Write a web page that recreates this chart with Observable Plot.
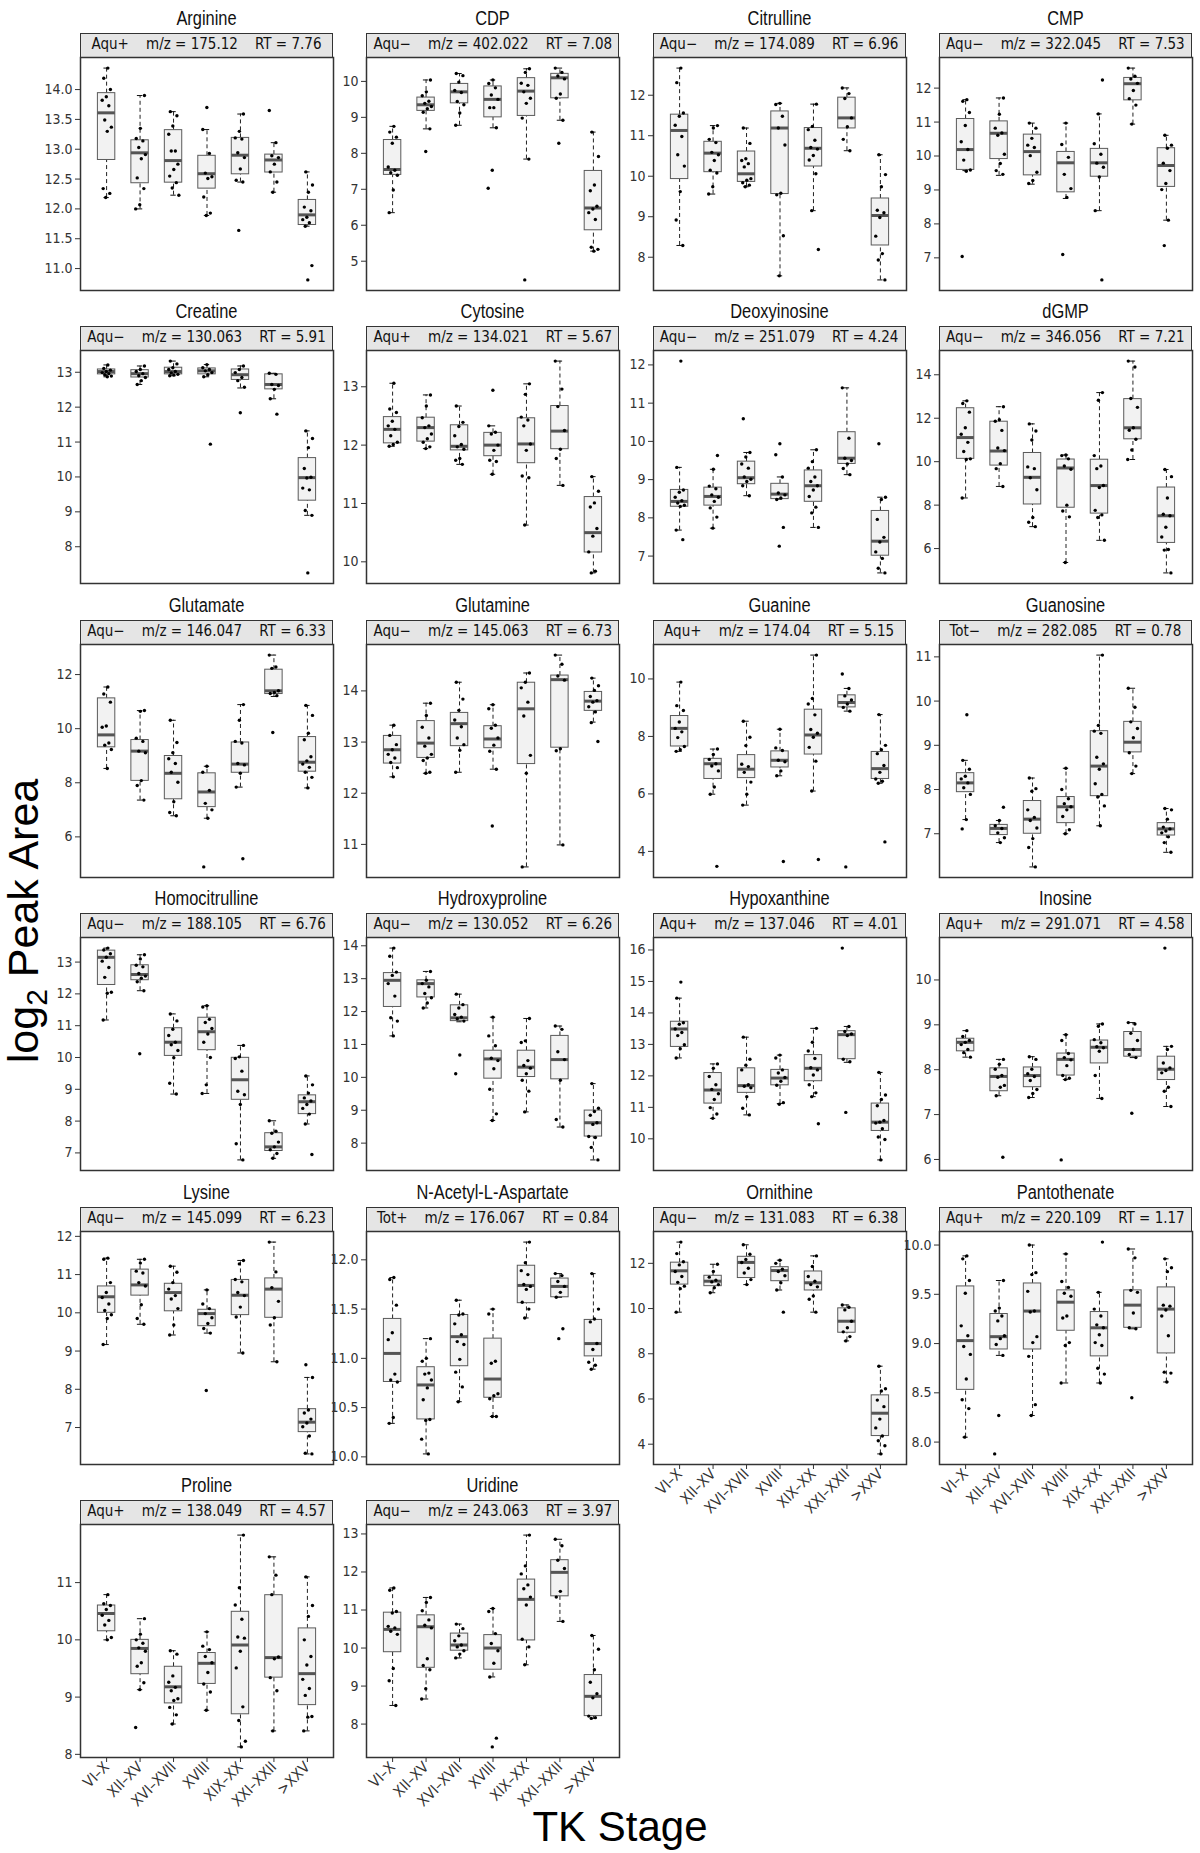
<!DOCTYPE html>
<html><head><meta charset="utf-8">
<script src="https://cdn.jsdelivr.net/npm/d3@7"></script>
<script src="https://cdn.jsdelivr.net/npm/@observablehq/plot@0.6"></script>
<style>
body{margin:0;background:#fff;}
#root{position:relative;width:1200px;height:1853px;overflow:hidden;font-family:"Liberation Sans Narrow","DejaVu Sans Condensed","Liberation Sans",sans-serif;}
.title{position:absolute;text-align:center;font-family:"Liberation Sans",Arial,sans-serif;font-size:20px;color:#111;line-height:26px;height:26px;white-space:nowrap;transform:scaleX(0.82);transform-origin:50% 50%;}
.strip{position:absolute;box-sizing:border-box;background:#e5e5e5;border:1.5px solid #333;text-align:center;font-size:15px;white-space:pre;line-height:21px;color:#111;}
.panel{position:absolute;}
</style></head><body><div id="root"></div><script>
const metabolites = ["Arginine","CDP","Citrulline","CMP","Creatine","Cytosine","Deoxyinosine","dGMP","Glutamate","Glutamine","Guanine","Guanosine","Homocitrulline","Hydroxyproline","Hypoxanthine","Inosine","Lysine","N-Acetyl-L-Aspartate","Ornithine","Pantothenate","Proline","Uridine"];
const modes = ["Aqu+","Aqu\u2212","Aqu\u2212","Aqu\u2212","Aqu\u2212","Aqu+","Aqu\u2212","Aqu\u2212","Aqu\u2212","Aqu\u2212","Aqu+","Tot\u2212","Aqu\u2212","Aqu\u2212","Aqu+","Aqu+","Aqu\u2212","Tot+","Aqu\u2212","Aqu+","Aqu+","Aqu\u2212"];
const mzValues = ["175.12","402.022","174.089","322.045","130.063","134.021","251.079","346.056","146.047","145.063","174.04","282.085","188.105","130.052","137.046","291.071","145.099","176.067","131.083","220.109","138.049","243.063"];
const rtValues = ["7.76","7.08","6.96","7.53","5.91","5.67","4.24","7.21","6.33","6.73","5.15","0.78","6.76","6.26","4.01","4.58","6.23","0.84","6.38","1.17","4.57","3.97"];
// y tick labels per panel: first, last, step
const yTickFirst = [11,5,8,7,8,10,7,6,6,11,4,7,7,8,10,6,7,10,4,8,8,8];
const yTickLast  = [14,10,12,12,13,13,12,14,12,14,10,11,13,14,16,10,12,12,12,10,11,13];
const yTickSteps = [0.5,1,1,1,1,1,1,2,2,1,2,1,1,1,1,1,1,0.5,2,0.5,1,1];
const stages = ["VI\u2013X","XII\u2013XV","XVI\u2013XVII","XVIII","XIX\u2013XX","XXI\u2013XXII",">XXV"];

// box stats per stage: [lower whisker, Q1, median, Q3, upper whisker]
const argininePts = [
 [14.36,14.19,14.0,13.88,13.82,13.73,13.49,13.37,13.30,12.34,12.26,12.19],
 [13.90,13.35,13.18,13.14,13.03,12.91,12.84,12.52,12.34,12.07,12.0],
 [13.63,13.56,13.39,13.25,12.97,12.97,12.75,12.66,12.55,12.44,12.35,12.23],
 [13.70,13.33,12.93,12.60,12.54,12.51,12.20,11.93,11.89],
 [13.59,13.30,13.19,13.17,12.94,12.86,12.67,12.48,12.45,11.64],
 [13.65,13.11,12.89,12.86,12.75,12.62,12.45,12.28],
 [12.62,12.40,12.28,12.03,11.97,11.86,11.82,11.77,11.71,11.05,10.81]];
const arginineBox = [[12.19,12.82,13.61,13.94,14.36],[12.0,12.43,12.94,13.15,13.90],[12.23,12.44,12.81,13.32,13.63],[11.89,12.34,12.59,12.89,13.33],[12.45,12.58,12.90,13.19,13.59],[12.28,12.61,12.82,12.91,13.11],[11.71,11.73,11.90,12.15,12.62]];

const cdpPts = [
 [8.75,8.59,8.45,8.28,7.62,7.53,7.46,7.39,6.98,6.35],
 [10.04,9.71,9.60,9.45,9.39,9.30,9.24,9.14,8.68,8.05],
 [10.22,10.16,9.98,9.75,9.69,9.44,9.35,9.12,8.78],
 [10.04,9.94,9.82,9.62,9.50,9.27,9.27,8.71,7.53,7.03],
 [10.35,10.25,9.95,9.89,9.71,9.53,9.39,8.98,7.84,4.48],
 [10.37,10.25,10.15,10.07,9.65,9.53,8.92,8.28],
 [8.59,7.91,7.12,6.96,6.53,6.45,6.35,6.16,5.39,5.33,5.28]];
const cdpBox = [[6.35,7.40,7.55,8.37,8.75],[8.68,9.18,9.35,9.55,10.04],[8.78,9.39,9.71,9.93,10.22],[8.71,9.0,9.50,9.86,10.04],[7.84,9.04,9.73,10.09,10.35],[8.92,9.53,10.10,10.21,10.37],[5.28,5.86,6.48,7.51,8.59]];

const citrullinePts = [
 [12.67,12.31,11.56,11.48,11.26,10.98,10.53,10.25,9.62,8.92,8.29],
 [11.25,11.19,10.91,10.83,10.59,10.53,10.39,10.15,10.08,9.74,9.56],
 [11.19,10.81,10.43,10.39,10.31,10.23,9.94,9.90,9.84,9.78,9.74],
 [11.80,11.77,11.48,11.19,10.77,9.58,9.54,8.53,7.54],
 [11.78,11.23,11.15,10.89,10.71,10.67,10.51,10.40,10.06,9.15,8.19],
 [12.18,12.04,11.92,11.44,11.22,10.91,10.63],
 [10.53,10.04,9.74,9.16,9.10,8.98,8.52,8.09,7.93,7.44]];
const citrullineBox = [[8.29,9.93,11.13,11.52,12.67],[9.56,10.10,10.57,10.85,11.25],[9.74,9.86,10.06,10.61,11.19],[7.54,9.56,11.19,11.60,11.80],[9.15,10.24,10.69,11.19,11.78],[10.63,11.18,11.44,11.94,12.18],[7.44,8.29,9.03,9.45,10.53]];

const cmpPts = [
 [11.66,11.61,11.28,10.90,10.42,10.19,9.88,9.59,9.55,7.04],
 [11.71,11.23,10.82,10.68,10.61,10.05,9.78,9.57,9.46],
 [10.97,10.82,10.52,10.32,10.25,10.01,9.52,9.28,9.19],
 [10.97,10.34,9.96,9.46,9.04,8.78,7.10],
 [12.24,11.24,10.36,10.05,9.79,9.67,9.38,8.39,6.35],
 [12.59,12.35,12.27,12.14,11.93,11.69,11.50,10.94],
 [10.61,10.32,10.23,9.79,9.57,9.19,9.01,8.11,7.36]];
const cmpBox = [[9.57,9.59,10.19,11.09,11.66],[9.43,9.91,10.67,11.02,11.71],[9.17,9.43,10.13,10.63,10.97],[8.75,8.93,9.80,10.12,10.97],[8.39,9.39,9.80,10.21,11.24],[10.94,11.64,12.13,12.30,12.59],[8.11,9.09,9.72,10.23,10.61]];

const creatinePts = [
 [13.21,13.11,13.06,13.02,12.99,12.96,12.93,12.89,12.87],
 [13.18,13.08,13.02,12.96,12.90,12.85,12.76,12.65],
 [13.32,13.24,13.13,13.08,13.02,12.98,12.94,12.92,12.90],
 [13.22,13.13,13.08,13.04,12.99,12.93,12.87,10.94],
 [13.18,13.08,12.99,12.85,12.76,12.57,11.84],
 [12.97,12.94,12.65,12.62,12.51,12.24,11.80],
 [11.32,11.10,10.84,10.24,9.99,9.97,9.68,9.63,9.04,8.90,7.25]];
const creatineBox = [[12.87,12.94,13.02,13.08,13.21],[12.65,12.85,12.96,13.06,13.18],[12.90,12.94,13.02,13.13,13.32],[12.87,12.94,13.04,13.11,13.22],[12.55,12.78,12.93,13.08,13.18],[12.24,12.51,12.65,12.94,12.97],[8.90,9.32,9.98,10.54,11.32]];

const cytosinePts = [
 [13.06,12.62,12.56,12.41,12.33,12.27,12.16,12.05,12.01,11.98],
 [12.86,12.67,12.47,12.33,12.30,12.19,12.11,12.05,11.97,11.94],
 [12.67,12.39,12.32,12.16,12.01,11.97,11.93,11.77,11.74,11.67],
 [12.94,12.33,12.22,12.19,12.0,11.91,11.74,11.72,11.50],
 [13.05,12.87,12.48,12.43,12.33,12.02,11.91,11.47,11.44,10.63],
 [13.44,12.96,12.66,12.25,11.93,11.77,11.31],
 [11.46,11.21,11.01,10.94,10.57,10.44,10.17,9.84,9.81]];
const cytosineBox = [[11.98,12.03,12.27,12.48,13.06],[11.94,12.06,12.30,12.47,12.86],[11.67,11.91,11.98,12.34,12.67],[11.50,11.81,12.0,12.21,12.33],[10.63,11.69,12.02,12.46,13.05],[11.31,11.93,12.24,12.67,13.44],[9.81,10.16,10.50,11.11,11.46]];

const deoxyinosinePts = [
 [12.10,9.32,8.73,8.67,8.54,8.45,8.39,8.33,8.30,7.68,7.43],
 [9.63,9.27,8.83,8.76,8.60,8.54,8.43,8.26,8.02,7.73],
 [10.59,9.71,9.59,9.41,9.30,9.07,9.01,8.95,8.84,8.58],
 [9.94,9.65,9.07,8.65,8.60,8.52,8.48,7.75,7.26],
 [9.78,9.47,9.30,9.07,8.95,8.84,8.73,8.56,8.28,8.13,7.75],
 [11.40,10.08,9.56,9.50,9.41,9.29,9.13],
 [9.94,8.54,8.48,7.96,7.49,7.37,7.11,6.94,6.68,6.56]];
const deoxyinosineBox = [[7.68,8.29,8.43,8.73,9.32],[7.73,8.32,8.56,8.79,9.27],[8.58,8.88,9.05,9.47,9.71],[8.49,8.49,8.62,8.89,9.07],[7.75,8.42,8.84,9.24,9.78],[9.13,9.41,9.56,10.24,11.40],[6.56,7.01,7.39,8.18,8.54]];

const dgmpPts = [
 [12.80,12.68,12.28,11.56,11.26,10.89,10.47,10.13,10.10,8.33],
 [12.53,11.93,11.86,11.44,10.63,10.51,9.91,9.68,8.86],
 [11.74,11.41,11.0,9.76,9.68,9.26,8.71,7.43,7.21,7.01],
 [10.31,10.28,10.13,9.80,9.65,8.0,7.73,7.46,5.36],
 [13.18,12.83,10.28,9.80,9.68,8.90,8.81,7.76,7.55,7.43,6.38],
 [14.63,14.36,12.91,12.50,11.56,11.45,11.03,10.54,10.10],
 [9.64,9.31,8.33,7.58,7.51,6.98,6.53,5.96,5.93,4.88]];
const dgmpBox = [[8.33,10.13,11.11,12.46,12.80],[8.86,9.82,10.49,11.84,12.53],[7.01,8.03,9.28,10.40,11.74],[5.36,7.88,9.71,10.10,10.31],[6.38,7.61,8.90,10.09,13.18],[10.10,11.03,11.56,12.88,14.63],[4.88,6.26,7.51,8.81,9.64]];

const glutamatePts = [
 [11.54,11.28,10.98,10.10,10.05,9.47,9.39,9.23,8.53],
 [10.67,10.64,9.65,9.53,9.17,9.11,8.08,7.90,7.36],
 [10.31,9.49,9.11,8.89,8.71,8.39,8.02,7.30,6.90,6.78],
 [8.61,8.39,7.72,7.24,7.0,6.69,4.89],
 [10.89,10.31,9.53,9.47,8.71,8.66,8.35,7.84,5.19],
 [12.72,12.28,12.23,11.40,11.34,11.30,11.22,9.86],
 [10.86,10.49,9.83,9.59,8.96,8.81,8.69,8.57,8.39,8.20,7.81]];
const glutamateBox = [[8.53,9.31,9.77,11.12,11.54],[7.36,8.07,9.17,9.58,10.67],[6.78,7.39,8.35,8.99,10.31],[6.69,7.10,7.66,8.35,8.61],[7.84,8.37,8.69,9.49,10.89],[11.19,11.28,11.40,12.18,12.72],[7.81,8.41,8.76,9.69,10.86]];

const glutaminePts = [
 [13.33,13.13,12.95,12.85,12.76,12.69,12.60,12.50,12.32],
 [13.76,13.52,13.29,13.08,12.92,12.76,12.69,12.64,12.41,12.39],
 [14.17,13.84,13.62,13.43,13.30,13.08,12.95,12.84,12.41],
 [13.73,13.65,13.33,13.27,13.08,12.94,12.82,12.47,11.36],
 [14.35,14.17,14.06,13.78,13.51,12.74,12.39,10.56],
 [14.70,14.52,14.29,14.21,12.87,12.83,10.99],
 [14.25,14.10,14.01,13.89,13.81,13.78,13.69,13.59,13.38,13.01]];
const glutamineBox = [[12.32,12.58,12.85,13.12,13.33],[12.39,12.69,12.98,13.41,13.76],[12.41,12.92,13.36,13.57,14.17],[12.47,12.88,13.06,13.31,13.73],[10.56,12.57,13.65,14.16,14.35],[10.99,12.89,14.22,14.30,14.70],[13.39,13.61,13.80,13.98,14.25]];

const guaninePts = [
 [9.89,9.07,8.90,8.50,8.28,8.16,7.96,7.65,7.54,7.48],
 [7.56,7.37,7.20,7.05,6.97,6.80,6.24,5.99,3.48],
 [8.53,7.97,7.68,7.03,6.95,6.75,6.41,5.99,5.61],
 [8.25,7.60,7.51,7.17,7.12,6.80,6.63,3.65],
 [10.83,9.32,9.13,8.75,8.24,8.11,7.97,7.62,7.14,6.10,3.72],
 [10.17,9.67,9.41,9.27,9.13,9.01,8.88,3.46],
 [8.76,7.69,7.54,7.40,6.99,6.75,6.52,6.44,6.37,4.33]];
const guanineBox = [[7.48,7.65,8.28,8.71,9.89],[5.99,6.52,7.05,7.22,7.56],[5.61,6.55,6.86,7.35,8.53],[6.63,6.92,7.17,7.48,8.25],[6.10,7.37,8.05,8.93,10.83],[8.88,9.01,9.18,9.43,9.67],[6.37,6.52,6.88,7.46,8.76]];

const guanosinePts = [
 [9.69,8.66,8.46,8.30,8.24,8.15,8.04,7.89,7.32,7.11],
 [7.60,7.30,7.18,7.12,7.02,6.91,6.80],
 [8.26,8.02,7.96,7.54,7.37,7.30,7.13,6.89,6.69,6.25],
 [8.48,8.0,7.79,7.68,7.61,7.54,7.39,7.09,7.0],
 [11.04,9.45,9.32,9.27,8.73,8.58,8.46,8.13,7.89,7.83,7.63,7.18],
 [10.29,9.86,9.53,9.38,9.17,8.83,8.53,8.36],
 [7.57,7.54,7.33,7.15,7.11,7.06,7.02,6.93,6.80,6.58]];
const guanosineBox = [[7.32,7.94,8.15,8.37,8.66],[6.80,6.97,7.12,7.20,7.30],[6.25,7.0,7.33,7.74,8.26],[7.0,7.24,7.61,7.83,8.48],[7.18,7.85,8.53,9.32,11.04],[8.36,8.84,9.07,9.53,10.29],[6.58,6.96,7.11,7.24,7.57]];

const homocitrullinePts = [
 [13.44,13.38,13.26,13.15,13.03,12.83,12.52,12.05,12.02,11.18],
 [13.23,13.10,12.90,12.85,12.64,12.56,12.49,12.38,12.10,10.12],
 [11.37,11.15,10.89,10.69,10.48,10.40,10.22,9.99,9.19,8.85],
 [11.63,11.59,11.20,11.10,10.91,10.74,10.48,10.0,9.14,8.87],
 [10.38,10.02,9.97,9.57,8.94,8.83,8.52,7.29,6.78],
 [8.01,7.68,7.62,7.34,7.19,7.10,6.98,6.83],
 [9.42,9.14,8.88,8.73,8.63,8.52,8.40,8.22,7.91,6.95]];
const homocitrullineBox = [[11.18,12.28,13.15,13.36,13.44],[12.10,12.43,12.61,12.90,13.23],[8.85,10.05,10.48,10.92,11.37],[8.87,10.23,10.81,11.25,11.63],[6.78,8.67,9.30,9.99,10.38],[6.83,7.06,7.19,7.62,8.01],[7.91,8.22,8.61,8.81,9.42]];

const hydroxyprolinePts = [
 [13.93,13.68,13.20,13.10,12.85,12.47,11.81,11.71,11.26],
 [13.22,12.95,12.85,12.75,12.55,12.42,12.26,12.11],
 [12.53,12.21,12.11,11.91,11.83,11.78,11.71,10.68,10.11],
 [11.83,11.26,10.96,10.58,10.51,10.26,9.64,8.89,8.69],
 [11.79,11.11,11.06,10.51,10.36,10.28,10.11,9.91,9.58,8.95],
 [11.56,11.46,10.78,10.54,9.91,8.72,8.49],
 [9.81,9.06,8.96,8.85,8.62,8.57,8.20,8.17,7.87,7.49]];
const hydroxyprolineBox = [[11.26,12.14,12.95,13.17,13.93],[12.11,12.43,12.85,12.95,13.22],[11.69,11.71,11.81,12.19,12.53],[8.69,9.96,10.56,10.81,11.83],[8.95,10.01,10.31,10.81,11.79],[8.49,9.94,10.54,11.26,11.56],[7.49,8.20,8.62,8.99,9.81]];

const hypoxanthinePts = [
 [14.98,14.47,13.69,13.64,13.49,13.38,13.28,12.99,12.86,12.57],
 [12.38,12.24,11.98,11.72,11.57,11.43,11.25,10.99,10.79,10.65],
 [13.23,12.53,12.34,12.19,11.72,11.67,11.62,11.34,10.97,10.76],
 [12.66,12.57,12.19,12.09,11.95,11.83,11.70,11.15,11.10],
 [13.51,13.07,12.79,12.55,12.26,12.19,12.03,11.72,11.46,11.34,10.48],
 [16.06,13.57,13.41,13.33,13.28,12.53,12.45,10.84],
 [12.11,11.39,11.25,11.05,10.58,10.53,10.50,10.32,10.06,9.98,9.33]];
const hypoxanthineBox = [[12.57,12.92,13.49,13.72,14.47],[10.65,11.12,11.55,12.09,12.38],[10.76,11.46,11.69,12.24,13.23],[11.12,11.70,11.93,12.19,12.66],[11.34,11.83,12.24,12.66,13.51],[12.43,12.53,13.31,13.42,13.57],[9.33,10.25,10.53,11.12,12.11]];

const inosinePts = [
 [8.87,8.74,8.65,8.61,8.56,8.45,8.38,8.28],
 [8.23,8.12,8.01,7.87,7.83,7.65,7.61,7.42,6.05],
 [8.29,8.23,8.01,7.91,7.85,7.76,7.56,7.47,7.38],
 [8.78,8.65,8.36,8.27,8.22,8.09,7.87,7.81,7.78,5.99],
 [9.02,8.97,8.67,8.60,8.51,8.49,8.41,7.87,7.36],
 [9.05,9.02,8.81,8.65,8.45,8.34,8.27,7.03],
 [10.71,8.52,8.45,8.15,8.04,7.98,7.93,7.61,7.52,7.18]];
const inosineBox = [[8.28,8.41,8.61,8.69,8.87],[7.42,7.52,7.85,8.03,8.23],[7.38,7.61,7.87,8.05,8.29],[7.78,7.87,8.23,8.36,8.78],[7.36,8.14,8.50,8.65,9.02],[8.27,8.29,8.45,8.84,9.05],[7.18,7.77,8.01,8.29,8.52]];

const lysinePts = [
 [11.43,11.40,10.79,10.53,10.40,10.23,10.06,9.95,9.85,9.17],
 [11.40,11.30,11.09,11.04,10.79,10.70,10.21,9.85,9.70],
 [11.22,11.06,10.79,10.62,10.45,10.36,10.11,9.68,9.42],
 [10.60,10.23,10.11,9.98,9.87,9.72,9.59,9.47,7.97],
 [11.37,11.28,10.87,10.81,10.53,10.45,10.15,9.89,8.95],
 [11.85,11.07,10.66,10.30,9.87,9.68,8.72],
 [8.64,8.31,7.46,7.38,7.22,7.12,7.02,6.78,6.33,6.31]];
const lysineBox = [[9.17,10.0,10.42,10.69,11.43],[9.70,10.45,10.73,11.13,11.40],[9.42,10.04,10.53,10.76,11.22],[9.47,9.65,9.98,10.08,10.60],[8.95,9.94,10.46,10.86,11.37],[8.72,9.87,10.62,10.90,11.85],[6.31,6.88,7.14,7.48,8.31]];

const naaPts = [
 [11.82,11.80,11.54,11.26,11.19,10.84,10.78,10.76,10.40,10.34],
 [11.20,11.0,10.97,10.85,10.84,10.78,10.70,10.58,10.38,10.37,10.18,10.03],
 [11.59,11.45,11.44,11.35,11.24,11.17,11.14,10.99,10.86,10.71,10.56],
 [11.50,11.45,10.97,10.95,10.64,10.62,10.59,10.41,10.41],
 [12.18,11.97,11.89,11.85,11.75,11.73,11.70,11.57,11.50,11.41],
 [11.86,11.84,11.78,11.73,11.67,11.62,11.30,11.20],
 [11.86,11.50,11.40,11.37,11.15,11.09,10.96,10.93,10.89]];
const naaBox = [[10.34,10.76,11.05,11.40,11.82],[10.03,10.38,10.73,10.91,11.20],[10.56,10.92,11.22,11.44,11.59],[10.41,10.60,10.79,11.20,11.50],[11.41,11.56,11.74,11.94,12.18],[11.62,11.62,11.73,11.81,11.86],[10.89,11.02,11.15,11.39,11.86]];

const ornithinePts = [
 [12.94,12.43,12.07,11.93,11.64,11.42,11.16,10.99,10.88,9.84],
 [11.96,11.64,11.39,11.25,11.18,11.06,10.92,10.70],
 [12.82,12.40,12.17,12.04,11.78,11.57,11.28,11.06],
 [12.14,12.0,11.74,11.64,11.45,11.14,10.82,9.84],
 [12.33,11.86,11.42,11.21,11.06,10.96,10.56,10.41,9.84],
 [10.16,10.06,9.94,9.44,9.15,8.97,8.76,8.57],
 [7.45,6.45,6.35,5.95,5.66,5.11,4.72,4.36,4.15,3.93,3.57]];
const ornithineBox = [[9.84,11.06,11.67,12.03,12.94],[10.70,10.99,11.21,11.45,11.96],[11.06,11.35,12.04,12.29,12.82],[10.82,11.21,11.68,11.83,12.14],[9.84,10.80,11.14,11.64,12.33],[8.57,8.93,9.44,10.01,10.16],[3.57,4.36,5.37,6.16,7.45]];

const pantothenatePts = [
 [9.89,9.86,9.64,9.51,9.18,9.08,8.97,8.89,8.64,8.43,8.34,8.05],
 [9.64,9.36,9.33,9.28,9.23,9.08,9.05,8.99,8.88,8.27,7.88],
 [10.0,9.72,9.70,9.53,9.33,9.32,9.07,9.01,8.87,8.38,8.27],
 [9.91,9.63,9.57,9.51,9.48,9.28,9.26,9.01,8.98,8.60],
 [10.03,9.52,9.35,9.28,9.19,9.16,9.09,9.01,8.98,8.75,8.69,8.60],
 [9.96,9.87,9.54,9.52,9.31,9.16,9.15,8.45],
 [9.86,9.77,9.73,9.39,9.38,9.34,9.28,9.08,8.71,8.70,8.61]];
const pantothenateBox = [[8.05,8.53,9.03,9.58,9.89],[8.88,8.94,9.07,9.30,9.64],[8.27,8.94,9.33,9.61,10.0],[8.60,9.13,9.42,9.54,9.91],[8.60,8.87,9.16,9.32,9.52],[9.15,9.16,9.39,9.54,9.96],[8.61,8.90,9.35,9.57,9.86]];

const prolinePts = [
 [10.79,10.63,10.60,10.53,10.43,10.34,10.26,10.04,10.0],
 [10.37,10.10,10.0,9.94,9.86,9.80,9.60,9.54,9.25,9.13,8.47],
 [9.81,9.75,9.37,9.26,9.17,9.11,8.97,8.94,8.82,8.69,8.53],
 [10.14,9.89,9.83,9.71,9.60,9.43,9.23,9.09,8.77],
 [11.83,10.91,10.61,10.36,10.05,10.03,9.80,9.51,8.83,8.59,8.23,8.13],
 [11.45,11.13,10.79,9.70,9.67,9.34,9.11,8.41],
 [11.10,10.60,10.41,10.0,9.71,9.56,9.31,9.15,9.03,8.66,8.65,8.41]];
const prolineBox = [[10.0,10.15,10.46,10.60,10.79],[9.13,9.40,9.85,10.0,10.37],[8.53,8.89,9.18,9.53,9.81],[8.77,9.23,9.59,9.77,10.14],[8.13,8.70,9.91,10.49,11.83],[8.41,9.34,9.69,10.78,11.45],[8.41,8.86,9.41,10.20,11.10]];

const uridinePts = [
 [11.58,11.52,10.96,10.92,10.57,10.53,10.44,10.36,9.46,9.14,8.49],
 [11.33,11.20,10.98,10.74,10.60,10.53,9.72,9.54,9.43,8.93,8.66],
 [10.63,10.51,10.32,10.19,10.08,10.03,9.93,9.84,9.74],
 [11.04,10.96,10.38,10.12,9.93,9.60,9.24,7.63,7.40],
 [12.97,12.16,11.95,11.66,11.56,11.34,11.13,10.23,10.03,9.56],
 [12.86,12.69,12.31,12.09,11.49,11.34,10.70],
 [10.33,9.97,9.43,9.10,8.80,8.69,8.21,8.17,8.15]];
const uridineBox = [[8.49,9.89,10.49,10.93,11.58],[8.66,9.48,10.56,10.86,11.33],[9.74,9.93,10.08,10.38,10.63],[9.24,9.43,10.0,10.34,11.04],[9.56,10.20,11.28,11.80,12.97],[10.70,11.36,11.99,12.31,12.86],[8.15,8.21,8.73,9.29,10.33]];

const panelPoints = [argininePts,cdpPts,citrullinePts,cmpPts,creatinePts,cytosinePts,deoxyinosinePts,dgmpPts,glutamatePts,glutaminePts,guaninePts,guanosinePts,homocitrullinePts,hydroxyprolinePts,hypoxanthinePts,inosinePts,lysinePts,naaPts,ornithinePts,pantothenatePts,prolinePts,uridinePts];
const panelBoxes = [arginineBox,cdpBox,citrullineBox,cmpBox,creatineBox,cytosineBox,deoxyinosineBox,dgmpBox,glutamateBox,glutamineBox,guanineBox,guanosineBox,homocitrullineBox,hydroxyprolineBox,hypoxanthineBox,inosineBox,lysineBox,naaBox,ornithineBox,pantothenateBox,prolineBox,uridineBox];

// ---- layout ----
const root = document.getElementById("root");
const FONT = '"Liberation Sans Narrow","DejaVu Sans Condensed","Liberation Sans",sans-serif';
const boxW = 253, boxH = 233, colX0 = 80, colPitch = 286.3, rowY0 = 33, rowPitch = 293.4, stripH = 24;
const ML = 46, MB_BOTTOM = 80;
const bottomPanels = new Set([18,19,20,21]);
const jit = (g, k) => ((((k + 1) * 0.6180339 + g * 0.29) % 1) - 0.5) * 0.32;

metabolites.forEach((name, p) => {
  const c = p % 4, r = Math.floor(p / 4);
  const left = colX0 + c * colPitch;
  const stripTop = rowY0 + r * rowPitch;
  const plotTop = stripTop + stripH;

  const t = document.createElement("div");
  t.className = "title";
  t.style.left = (left - 40) + "px"; t.style.width = (boxW + 80) + "px";
  t.style.top = (stripTop - 28) + "px";
  t.textContent = name;
  root.appendChild(t);

  const s = document.createElement("div");
  s.className = "strip";
  s.style.left = left + "px"; s.style.top = stripTop + "px";
  s.style.width = boxW + "px"; s.style.height = (stripH + 1) + "px";
  s.textContent = `${modes[p]}    m/z = ${mzValues[p]}    RT = ${rtValues[p]}`;
  root.appendChild(s);

  const pts = [];
  panelPoints[p].forEach((arr, g) => arr.forEach((v, k) => pts.push({x: g + 1 + jit(g, k), y: v})));
  const boxes = panelBoxes[p].map((b, g) => ({g: g + 1, lo: b[0], q1: b[1], med: b[2], q3: b[3], hi: b[4]}));
  const all = pts.map(d => d.y).concat(boxes.flatMap(b => [b.lo, b.hi]));
  const [mn, mx] = d3.extent(all);
  const pad = (mx - mn) * 0.05;
  const lo = mn - pad, hi = mx + pad;
  const step = yTickSteps[p];
  const nT = Math.round((yTickLast[p] - yTickFirst[p]) / step);
  const ticks = d3.range(nT + 1).map(i => yTickFirst[p] + i * step);
  const isBottom = bottomPanels.has(p);
  const MB = isBottom ? MB_BOTTOM : 0;

  const marks = [
    Plot.ruleX(boxes, {x: "g", y1: "lo", y2: "q1", stroke: "#222", strokeWidth: 1, strokeDasharray: "4,3"}),
    Plot.ruleX(boxes, {x: "g", y1: "q3", y2: "hi", stroke: "#222", strokeWidth: 1, strokeDasharray: "4,3"}),
    Plot.rect(boxes, {x1: d => d.g - 0.26, x2: d => d.g + 0.26, y1: "q1", y2: "q3", fill: "#f2f2f2", stroke: "#5a5a5a", strokeWidth: 1}),
    Plot.ruleY(boxes, {y: "med", x1: d => d.g - 0.26, x2: d => d.g + 0.26, stroke: "#555", strokeWidth: 3}),
    Plot.ruleY(boxes, {y: "lo", x1: d => d.g - 0.08, x2: d => d.g + 0.08, stroke: "#111", strokeWidth: 1}),
    Plot.ruleY(boxes, {y: "hi", x1: d => d.g - 0.08, x2: d => d.g + 0.08, stroke: "#111", strokeWidth: 1}),
    Plot.dot(pts, {x: "x", y: "y", r: 1.7, fill: "#000", stroke: "none"}),
    Plot.axisY({ticks, tickFormat: step < 1 ? d => d.toFixed(1) : d => String(d), tickSize: 5, tickPadding: 3, fontSize: 14, label: null}),
    Plot.frame({stroke: "#333", strokeWidth: 1.5})
  ];
  if (isBottom) marks.push(Plot.axisX({ticks: [1,2,3,4,5,6,7], tickFormat: i => stages[i - 1], tickRotate: -45, tickSize: 5, tickPadding: 2, fontSize: 15, label: null}));

  const chart = Plot.plot({
    width: ML + boxW + 1,
    height: 1 + boxH + MB,
    marginLeft: ML, marginRight: 1, marginTop: 1, marginBottom: MB,
    x: isBottom ? {domain: [0.22, 7.78], label: null} : {domain: [0.22, 7.78], axis: null, label: null},
    y: {domain: [lo, hi], label: null},
    style: {fontFamily: FONT, fontSize: "14px", color: "#333", background: "transparent", overflow: "visible"},
    marks
  });
  const wrap = document.createElement("div");
  wrap.className = "panel";
  wrap.style.left = (left - ML) + "px";
  wrap.style.top = (plotTop - 1) + "px";
  wrap.appendChild(chart);
  root.appendChild(wrap);
});

// axis titles
const ns = "http://www.w3.org/2000/svg";
const over = document.createElementNS(ns, "svg");
over.setAttribute("width", 1200); over.setAttribute("height", 1853);
over.style.position = "absolute"; over.style.left = "0"; over.style.top = "0"; over.style.pointerEvents = "none";
over.innerHTML = `
<text transform="translate(38,921) rotate(-90)" text-anchor="middle" font-family="Liberation Sans, Arial, sans-serif" font-size="43" fill="#000">log<tspan dy="9" font-size="30">2</tspan><tspan dy="-9"> Peak Area</tspan></text>
<text x="620" y="1841" text-anchor="middle" font-family="Liberation Sans, Arial, sans-serif" font-size="42" fill="#000">TK Stage</text>`;
root.appendChild(over);
</script></body></html>
